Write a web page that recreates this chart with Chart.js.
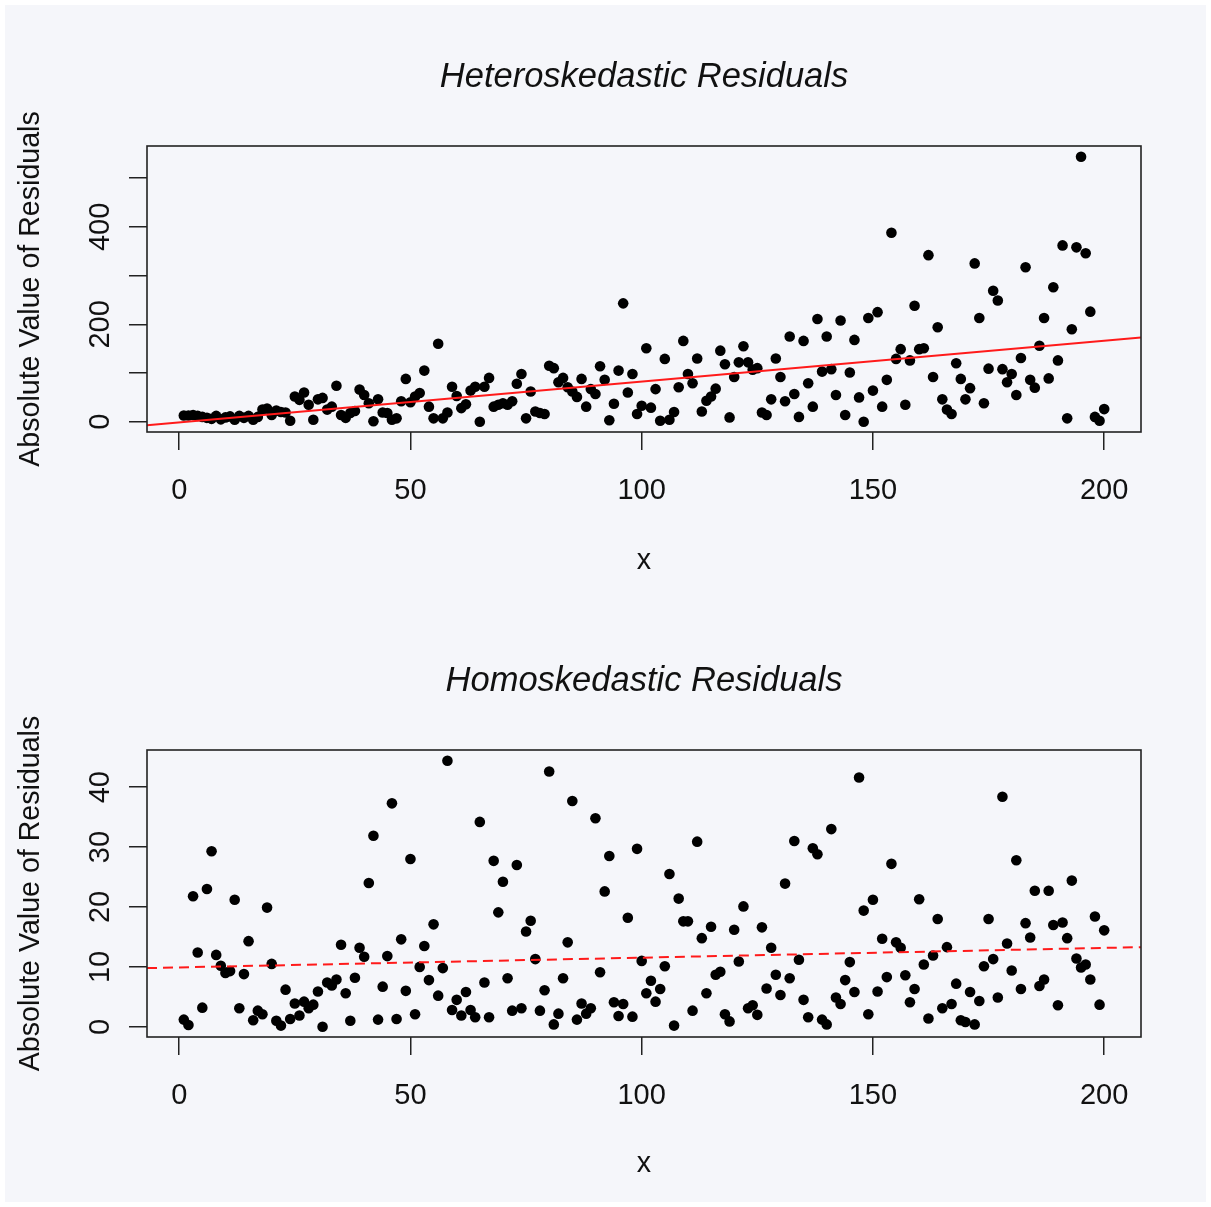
<!DOCTYPE html>
<html><head><meta charset="utf-8">
<script src="https://cdn.jsdelivr.net/npm/chart.js@4/dist/chart.umd.min.js"></script>
<style>
html,body{margin:0;padding:0;background:#fff;overflow:hidden;width:1211px;height:1207px;}
#bg{position:absolute;left:5px;top:5px;width:1201px;height:1197px;background:#f5f6fa;}
canvas{position:absolute;left:0;}
#c1{top:0px;}
#c2{top:604px;}
</style></head><body>
<div id="bg"></div>
<canvas id="c1" width="1211" height="604"></canvas>
<canvas id="c2" width="1211" height="603"></canvas>
<script>
// ---- data ----
const xIndex = Array.from({length: 200}, (_, i) => i + 1);

const heteroResiduals = [
  13,13,14,12,10,8,6,12,5,9,
  11,4,12,8,12,4,10,25,27,14,
  23,20,19,2,52,45,60,35,4,46,
  49,25,31,74,14,8,18,22,66,55,
  38,1,46,19,18,4,7,42,88,40,
  52,59,105,31,7,160,7,19,72,53,
  28,36,64,72,0,72,90,31,35,38,
  35,42,78,98,7,62,21,18,16,115,
  110,81,90,71,62,51,88,31,67,57,
  114,86,3,37,105,243,60,98,16,33,
  151,29,67,2,129,4,20,71,166,98,
  79,130,21,43,52,68,146,118,9,92,
  122,155,122,107,110,19,14,46,130,92,
  42,175,57,10,166,79,31,211,103,175,
  108,55,208,14,101,168,50,0,213,64,
  225,31,86,388,129,149,35,126,238,149,
  151,342,92,194,46,25,16,120,88,46,
  69,325,213,38,109,269,249,108,81,98,
  55,131,317,86,70,156,213,89,276,126,
  362,7,190,358,544,346,226,10,2,26
];

const homoResiduals = [
  1.2,0.3,21.8,12.4,3.2,23,29.3,12,10.2,9,
  9.3,21.2,3.1,8.8,14.3,1.1,2.7,2.1,19.9,10.5,
  1,0.2,6.2,1.3,3.9,1.9,4.2,3.1,3.7,5.9,
  0,7.4,6.9,7.9,13.7,5.6,1,8.2,13.2,11.7,
  24,31.9,1.2,6.7,11.8,37.3,1.3,14.6,6,28,
  2.1,10,13.5,7.8,17.1,5.2,9.8,44.4,2.8,4.5,
  1.9,5.8,2.8,1.6,34.2,7.4,1.6,27.7,19.1,24.2,
  8.1,2.7,27,3.1,15.9,17.7,11.3,2.7,6.1,42.6,
  0.4,2.2,8.1,14.1,37.7,1.2,3.9,2.2,3.1,34.8,
  9.1,22.6,28.5,4.1,1.8,3.8,18.2,1.7,29.7,11,
  5.6,7.7,4.2,6.3,10.1,25.5,0.2,21.4,17.6,17.6,
  2.7,30.9,14.8,5.6,16.7,8.7,9.2,2.1,0.9,16.2,
  10.9,20.1,3.1,3.6,2,16.6,6.4,13.2,8.7,5.3,
  23.9,8.1,31,11.2,4.5,1.6,29.8,28.8,1.2,0.4,
  33,4.9,3.8,7.8,10.8,5.8,41.6,19.4,2.1,21.2,
  5.9,14.7,8.3,27.2,14.1,13.2,8.6,4.1,6.3,21.3,
  10.4,1.4,11.9,18,3.1,13.3,3.8,7.2,1.1,0.8,
  5.8,0.4,4.3,10.1,18,11.3,4.9,38.4,13.9,9.4,
  27.8,6.3,17.3,14.9,22.7,6.8,7.9,22.7,17,3.6,
  17.4,14.8,24.4,11.4,9.9,10.4,7.9,18.4,3.7,16.1
];

// fitted lines, endpoints read at the plot edges
const fitX = [-6.96, 207.96];
const heteroFitY = [-7, 173];
const homoFitY = [9.8, 13.3];

const xTicks = [0, 50, 100, 150, 200];
const xTickLabels = ['0', '50', '100', '150', '200'];
const heteroYTicks = [0, 100, 200, 300, 400, 500];
const heteroYTickLabels = ['0', '', '200', '', '400', ''];
const homoYTicks = [0, 10, 20, 30, 40];
const homoYTickLabels = ['0', '10', '20', '30', '40'];

const xRange = [-6.96, 207.96];
const heteroYRange = [-21, 566];
const homoYRange = [-1.7, 46.2];

const titles = ['Heteroskedastic Residuals', 'Homoskedastic Residuals'];
const xTitle = 'x';
const yTitle = 'Absolute Value of Residuals';

// ---- chart construction ----
const FONT = '"Liberation Sans", Arial, Helvetica, sans-serif';
const INK = '#111';

const framePlugin = {
  id: 'frame',
  afterDatasetsDraw(chart) {
    const {ctx, chartArea: a} = chart;
    ctx.save();
    ctx.strokeStyle = '#222';
    ctx.lineWidth = 1.6;
    ctx.strokeRect(a.left, a.top, a.right - a.left, a.bottom - a.top);
    ctx.restore();
  }
};

function makeChart(canvasId, cfg) {
  const H = document.getElementById(canvasId).height;
  const points = xIndex.map((x, i) => ({x: x, y: cfg.values[i]}));
  const fit = fitX.map((x, i) => ({x: x, y: cfg.fitY[i]}));
  return new Chart(document.getElementById(canvasId), {
    type: 'scatter',
    data: {
      datasets: [
        {
          type: 'line',
          data: fit,
          borderColor: '#ff1a1a',
          borderWidth: 2,
          borderDash: cfg.dash,
          pointRadius: 0,
          fill: false,
          showLine: true
        },
        {
          data: points,
          backgroundColor: '#000',
          borderColor: '#000',
          borderWidth: 0,
          pointRadius: 5.3,
          pointHoverRadius: 5.3
        }
      ]
    },
    options: {
      responsive: false,
      animation: false,
      devicePixelRatio: 1,
      layout: {padding: {left: 0, right: 70, top: 0, bottom: 0}},
      plugins: {
        legend: {display: false},
        tooltip: {enabled: false},
        title: {
          display: true,
          fullSize: false,
          text: cfg.title,
          color: INK,
          font: {family: FONT, size: 34.5, style: 'italic', weight: 'normal', lineHeight: 1.2},
          padding: {top: 56.3, bottom: 48.3}
        }
      },
      scales: {
        x: {
          type: 'linear',
          position: 'bottom',
          min: xRange[0],
          max: xRange[1],
          afterBuildTicks: s => { s.ticks = xTicks.map(v => ({value: v})); },
          afterFit: s => { s.height = H - cfg.plotBottom; },
          border: {display: false},
          grid: {drawOnChartArea: false, drawTicks: true, tickLength: 18, color: '#222', lineWidth: 1.5},
          ticks: {
            autoSkip: false,
            minRotation: 0,
            maxRotation: 0,
            padding: 24,
            color: INK,
            font: {family: FONT, size: 29},
            callback: v => xTickLabels[xTicks.indexOf(v)]
          },
          title: {
            display: true,
            text: xTitle,
            color: INK,
            font: {family: FONT, size: 28.6},
            padding: {top: 0, bottom: 26}
          }
        },
        y: {
          type: 'linear',
          position: 'left',
          min: cfg.yRange[0],
          max: cfg.yRange[1],
          afterBuildTicks: s => { s.ticks = cfg.yTicks.map(v => ({value: v})); },
          afterFit: s => { s.width = 147; },
          border: {display: false},
          grid: {drawOnChartArea: false, drawTicks: true, tickLength: 18, color: '#222', lineWidth: 1.5},
          ticks: {
            autoSkip: false,
            minRotation: 90,
            maxRotation: 90,
            crossAlign: 'center',
            padding: cfg.yTickPad,
            color: INK,
            font: {family: FONT, size: 29},
            callback: v => cfg.yTickLabels[cfg.yTicks.indexOf(v)]
          },
          title: {
            display: true,
            text: yTitle,
            color: INK,
            font: {family: FONT, size: 28.6},
            padding: {top: 14, bottom: 0}
          }
        }
      }
    },
    plugins: [framePlugin]
  });
}

makeChart('c1', {
  values: heteroResiduals,
  fitY: heteroFitY,
  dash: [],
  title: titles[0],
  yRange: heteroYRange,
  yTicks: heteroYTicks,
  yTickLabels: heteroYTickLabels,
  yTickPad: 3.5,
  plotBottom: 432
});

makeChart('c2', {
  values: homoResiduals,
  fitY: homoFitY,
  dash: [10, 6],
  title: titles[1],
  yRange: homoYRange,
  yTicks: homoYTicks,
  yTickPad: 11.5,
  yTickLabels: homoYTickLabels,
  plotBottom: 433
});
</script></body></html>
